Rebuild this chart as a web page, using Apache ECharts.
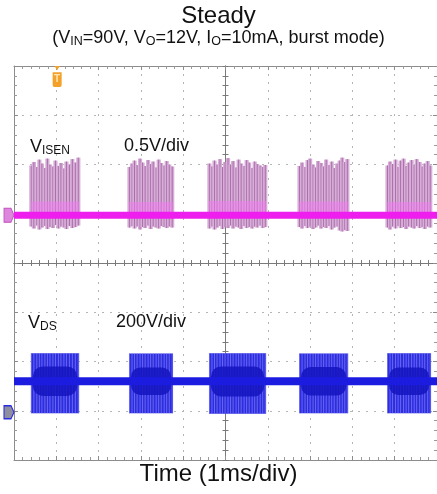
<!DOCTYPE html>
<html>
<head>
<meta charset="utf-8">
<style>
  html, body { margin: 0; padding: 0; background: #fff; }
  #main { width: 437px; height: 494px; }
</style>
<script src="https://cdn.jsdelivr.net/npm/echarts@6/dist/echarts.min.js"></script>
</head>
<body>
<div id="main"></div>
<script>
// screen is 10 x 8 divisions, time in ms relative to screen centre (1ms/div)
// vertical values are in divisions from the screen centre line
const burstStart = [-4.60, -2.28, -0.39, 1.74, 3.82]
const burstEnd = [-3.46, -1.24, 0.96, 2.90, 4.86]

// switching pulses inside each burst (V_ISEN spikes)
const pulseTime = [
  -4.59, -4.53, -4.46, -4.40, -4.34, -4.27, -4.21, -4.15, -4.08, -4.02, -3.95, -3.89, -3.82, -3.76, -3.69, -3.62, -3.55, -3.48,
  -2.27, -2.21, -2.15, -2.09, -2.02, -1.96, -1.90, -1.83, -1.77, -1.71, -1.64, -1.58, -1.52, -1.45, -1.39, -1.33, -1.26,
  -0.38, -0.32, -0.26, -0.20, -0.13, -0.07, -0.01, 0.06, 0.12, 0.18, 0.25, 0.31, 0.37, 0.44, 0.50, 0.56, 0.63, 0.69, 0.75, 0.82, 0.88, 0.94,
  1.75, 1.81, 1.88, 1.94, 2.00, 2.07, 2.13, 2.19, 2.26, 2.32, 2.38, 2.45, 2.51, 2.57, 2.64, 2.70, 2.76, 2.82, 2.88,
  3.83, 3.89, 3.95, 4.02, 4.08, 4.14, 4.21, 4.27, 4.33, 4.40, 4.46, 4.52, 4.59, 4.65, 4.71, 4.78, 4.84
]
const isenPeak = [
  1.98, 2.05, 1.95, 2.10, 2.02, 1.93, 2.12, 2.00, 1.96, 2.08, 1.97, 2.03, 1.92, 2.06, 2.00, 2.11, 2.04, 2.14,
  1.95, 2.02, 2.08, 1.99, 2.12, 2.04, 1.97, 2.09, 2.01, 2.06, 1.94, 2.10, 2.03, 1.98, 2.07, 2.00, 1.96,
  2.02, 1.96, 2.08, 2.00, 2.11, 1.95, 2.05, 2.13, 1.99, 2.07, 1.94, 2.10, 2.02, 1.97, 2.09, 2.04, 1.93, 2.06, 2.01, 1.98, 1.95, 1.99,
  1.97, 2.04, 1.95, 2.09, 2.12, 2.00, 1.94, 2.07, 2.03, 1.96, 2.10, 1.99, 2.06, 1.93, 2.02, 2.08, 2.14, 2.05, 2.11,
  1.98, 2.06, 2.01, 2.10, 1.95, 2.08, 2.12, 1.97, 2.04, 2.09, 1.99, 2.11, 2.05, 1.96, 2.02, 2.07, 1.98
]
const isenDip = [
  0.74, 0.70, 0.76, 0.68, 0.72, 0.75, 0.69, 0.73, 0.71, 0.77, 0.70, 0.74, 0.72, 0.69, 0.75, 0.71, 0.73, 0.76,
  0.72, 0.75, 0.70, 0.74, 0.68, 0.73, 0.71, 0.76, 0.69, 0.74, 0.72, 0.70, 0.75, 0.73, 0.71, 0.74, 0.72,
  0.70, 0.74, 0.68, 0.72, 0.75, 0.69, 0.73, 0.71, 0.76, 0.70, 0.74, 0.72, 0.69, 0.75, 0.71, 0.73, 0.70, 0.74, 0.72, 0.76, 0.71, 0.73,
  0.73, 0.70, 0.75, 0.71, 0.74, 0.69, 0.72, 0.76, 0.70, 0.73, 0.71, 0.75, 0.68, 0.72, 0.74, 0.66, 0.64, 0.67, 0.65,
  0.72, 0.68, 0.74, 0.70, 0.75, 0.71, 0.73, 0.69, 0.74, 0.72, 0.70, 0.75, 0.71, 0.73, 0.69, 0.74, 0.72
]
const isenPinkTop = [1.25, 1.24, 1.26, 1.25, 1.24]

const isenLevel = 0.97   // V_ISEN trace rest level (also its ground marker)
const vdsLevel = -2.40   // V_DS rest level (bulk voltage)
const vdsZero = -3.03    // V_DS ground marker
const vdsHigh = [-1.83, -1.84, -1.83, -1.84, -1.83]
const vdsLow = [-3.05, -3.05, -3.06, -3.05, -3.05]
const vdsCoreHi = [-2.10, -2.12, -2.10, -2.11, -2.12]
const vdsCoreLo = [-2.70, -2.68, -2.71, -2.69, -2.68]
const triggerTime = -3.98

const font = 'Liberation Sans, Arial, sans-serif'
const gridDot = { color: '#b5b5b5', type: [2, 6], width: 1 }

function borderAxis(pos, isX) {
  return {
    type: 'value', position: pos, min: isX ? -5 : -4, max: isX ? 5 : 4, interval: 1,
    axisLine: { show: true, onZero: false, lineStyle: { color: '#8c8c8c', width: 1 } },
    axisTick: { show: true, inside: true, length: 4, lineStyle: { color: '#8c8c8c' } },
    minorTick: { show: true, splitNumber: 5, length: 3, lineStyle: { color: '#9a9a9a' } },
    axisLabel: { show: false },
    splitLine: { show: false }
  }
}
function centerAxis(pos, isX, main) {
  return {
    type: 'value', position: pos, min: isX ? -5 : -4, max: isX ? 5 : 4, interval: 1,
    axisLine: { show: true, onZero: true, lineStyle: { color: '#7a7a7a', width: 1 } },
    axisTick: { show: true, length: 3, lineStyle: { color: '#7a7a7a' } },
    minorTick: { show: true, splitNumber: 5, length: 3, lineStyle: { color: '#7a7a7a' } },
    axisLabel: { show: false },
    splitLine: { show: main, lineStyle: gridDot }
  }
}

const bandData = burstStart.map((s, i) => [s, burstEnd[i], isenLevel, isenPinkTop[i]])
const pulseData = pulseTime.map((t, i) => [t, isenPeak[i], isenDip[i]])
const vdsData = burstStart.map((s, i) => [s, burstEnd[i], vdsLow[i], vdsHigh[i]])
const vdsCore = burstStart.map((s, i) => [s, burstEnd[i], vdsCoreLo[i], vdsCoreHi[i]])

function rectItem(fill) {
  return function(params, api) {
    const p1 = api.coord([api.value(0), api.value(3)])
    const p2 = api.coord([api.value(1), api.value(2)])
    return {
      type: 'rect',
      shape: { x: p1[0], y: p1[1], width: p2[0] - p1[0], height: p2[1] - p1[1] },
      style: { fill: fill }
    }
  }
}
function coreItem(params, api) {
  const p1 = api.coord([api.value(0), api.value(3)])
  const p2 = api.coord([api.value(1), api.value(2)])
  const h = p2[1] - p1[1]
  return {
    type: 'rect',
    shape: { x: p1[0] + 2, y: p1[1], width: p2[0] - p1[0] - 4, height: h, r: h / 3 },
    style: { fill: '#1414c0', opacity: 0.85 }
  }
}

const txt = (size) => ({ fontSize: size, fontWeight: 'normal', fontFamily: font, color: '#111' })
const sub = (size, drop) => ({ fontSize: size, fontFamily: font, color: '#111', verticalAlign: 'bottom', padding: [drop, 0, 0, 0] })

const chart = echarts.init(document.getElementById('main'))
chart.setOption({
  animation: false,
  title: [
    { text: 'Steady', left: 'center', top: 4, padding: 0, textStyle: txt(24) },
    { text: '(V{s|IN}=90V, V{s|O}=12V, I{s|O}=10mA, burst mode)', left: 'center', top: 28, padding: 0,
      textStyle: Object.assign(txt(18), { rich: { s: sub(12.5, 7) } }) },
    { text: 'V{s|ISEN}', left: 30, top: 137, padding: 0,
      textStyle: Object.assign(txt(18), { rich: { s: sub(12, 8) } }) },
    { text: '0.5V/div', left: 124, top: 137, padding: 0, textStyle: txt(18) },
    { text: 'V{s|DS}', left: 28, top: 313, padding: 0,
      textStyle: Object.assign(txt(18), { rich: { s: sub(12, 8) } }) },
    { text: '200V/div', left: 116, top: 313, padding: 0, textStyle: txt(18) },
    { text: 'Time (1ms/div)', left: 'center', top: 462, padding: 0, textStyle: txt(24) }
  ],
  grid: { left: 14, right: 0, top: 66, bottom: 34, show: false },
  xAxis: [
    centerAxis('bottom', true, true),
    centerAxis('top', true, false),
    borderAxis('top', true),
    borderAxis('bottom', true)
  ],
  yAxis: [
    centerAxis('left', false, true),
    centerAxis('right', false, false),
    borderAxis('left', false),
    borderAxis('right', false)
  ],
  series: [
    {
      // V_DS burst envelope
      type: 'custom', z: 3, silent: true,
      renderItem: rectItem('#2c2ce2'),
      data: vdsData
    },
    {
      // individual switching cycles seen through the V_DS burst
      type: 'custom', z: 4, silent: true,
      renderItem: function(params, api) {
        const t = api.value(0)
        const b = burstStart.findIndex((s, i) => t >= s - 0.01 && t <= burstEnd[i] + 0.01)
        const p1 = api.coord([t, vdsHigh[b]])
        const p2 = api.coord([t, vdsLow[b]])
        return {
          type: 'line',
          shape: { x1: p1[0], y1: p1[1], x2: p2[0], y2: p2[1] },
          style: { stroke: '#8a8af2', lineWidth: 0.8, opacity: 0.8 }
        }
      },
      data: pulseData
    },
    {
      type: 'custom', z: 5, silent: true,
      renderItem: coreItem,
      data: vdsCore
    },
    {
      type: 'line', z: 6, silent: true, symbol: 'none',
      lineStyle: { color: '#1c1ce0', width: 8 },
      data: [[-5, vdsLevel], [5, vdsLevel]],
      markPoint: {
        silent: true,
        data: [{
          coord: [-5, vdsZero], symbol: 'path://M0,0 L7,0 L10,5 L7,10 L0,10 Z', symbolSize: [10, 13],
          symbolOffset: [-5, 0], itemStyle: { color: '#8e8e9e', borderColor: '#2a2ae0', borderWidth: 1.2 },
          label: { show: false }
        }]
      }
    },
    {
      // V_ISEN spikes
      type: 'custom', z: 7, silent: true,
      renderItem: function(params, api) {
        const t = api.value(0)
        const p1 = api.coord([t, api.value(1)])
        const p2 = api.coord([t, api.value(2)])
        return {
          type: 'group',
          children: [
            { type: 'rect', shape: { x: p1[0] - 2.1, y: p1[1], width: 4.2, height: p2[1] - p1[1] },
              style: { fill: '#d7aed7' } },
            { type: 'line', shape: { x1: p1[0], y1: p1[1], x2: p2[0], y2: p2[1] },
              style: { stroke: '#a466a4', lineWidth: 0.9 } }
          ]
        }
      },
      data: pulseData
    },
    {
      type: 'custom', z: 8, silent: true,
      renderItem: rectItem('rgba(244,120,244,0.5)'),
      data: bandData
    },
    {
      type: 'line', z: 9, silent: true, symbol: 'none',
      lineStyle: { color: '#ee1fee', width: 7 },
      data: [[-5, isenLevel], [5, isenLevel]],
      markPoint: {
        silent: true,
        data: [
          {
            coord: [-5, isenLevel], symbol: 'path://M0,0 L7,0 L10,5 L7,10 L0,10 Z', symbolSize: [10, 14],
            symbolOffset: [-5, 0], itemStyle: { color: '#dc86dc', borderColor: '#c050c0', borderWidth: 1 },
            label: { show: false }
          },
          {
            coord: [triggerTime, 4], symbol: 'path://M2,0 L8,0 L5,4 Z M0,6 L10,6 L10,18 Q10,20 8,20 L2,20 Q0,20 0,18 Z',
            symbolSize: [9, 21], symbolOffset: [0, 10.5], itemStyle: { color: '#f3a12a' },
            label: { show: true, formatter: 'T', color: '#ffe6b0', fontSize: 10, fontWeight: 'bold', fontFamily: font, offset: [0, 3] }
          }
        ]
      }
    }
  ]
})
</script>
</body>
</html>
